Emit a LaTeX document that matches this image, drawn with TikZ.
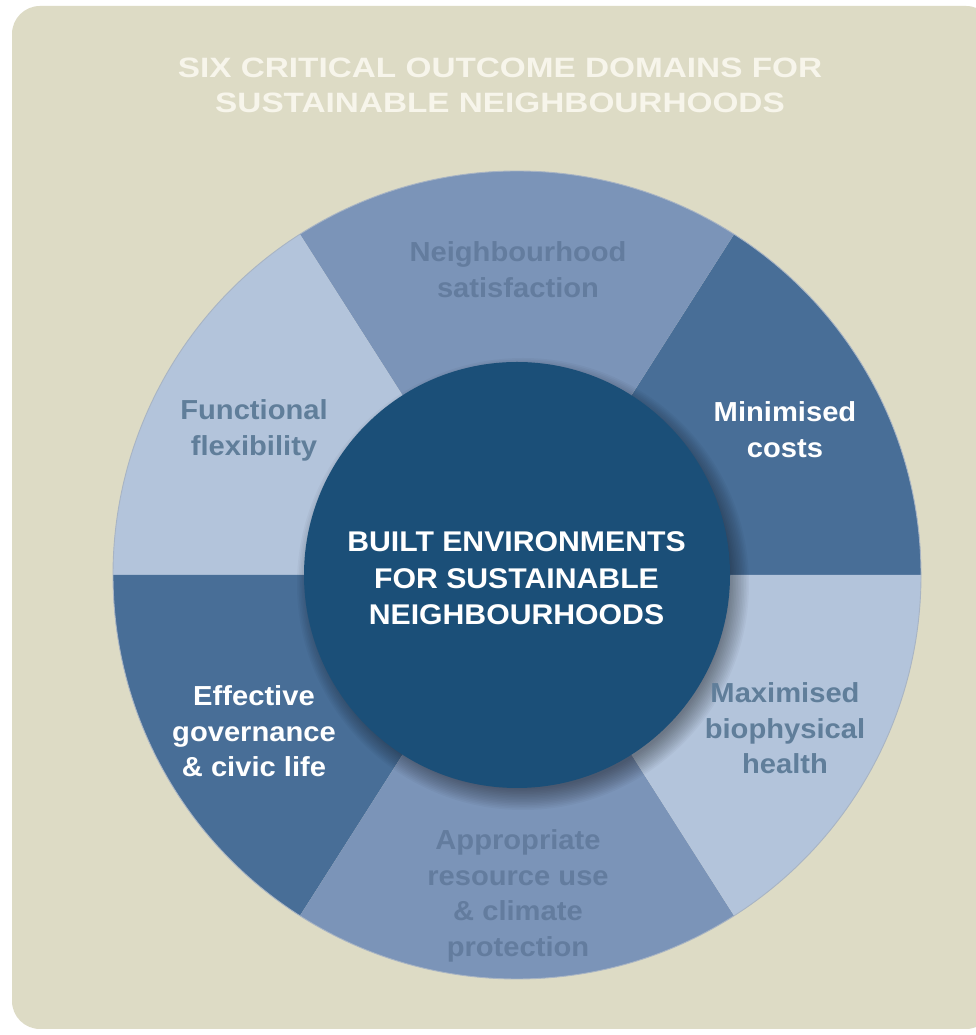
\documentclass[tikz,border=0pt]{standalone}
\usepackage{fontspec}
\setmainfont{Liberation Sans}
\newfontfamily\lblfont[FakeStretch=1.06]{Liberation Sans}
\newfontfamily\ttlfont[FakeStretch=1.19]{Liberation Sans}
\definecolor{bgbeige}{RGB}{221,219,197}
\definecolor{segdark}{RGB}{72,110,151}
\definecolor{segmid}{RGB}{123,148,184}
\definecolor{seglight}{RGB}{179,196,219}
\definecolor{hubblue}{RGB}{27,79,120}
\definecolor{txtlight}{RGB}{96,126,154}
\definecolor{txtmid}{RGB}{99,124,158}
\definecolor{ttlwhite}{RGB}{247,245,235}
\definecolor{ringedge}{RGB}{168,180,196}
\begin{document}
\begin{tikzpicture}[x=1pt,y=1pt,
  seglabel/.style={font={\lblfont\bfseries\fontsize{27.5}{35.5}\selectfont}, align=center, anchor=base, inner sep=0pt},
  hubtxt/.style={font={\lblfont\bfseries\fontsize{28.5}{36.5}\selectfont}, align=center, anchor=base, inner sep=0pt, text=white},
  ttl/.style={font={\ttlfont\bfseries\fontsize{28}{35}\selectfont}, align=center, anchor=base, inner sep=0pt, text=ttlwhite},
  hubstyle/.style={circle, fill=hubblue, minimum size=426pt, inner sep=0pt}]
\useasboundingbox (0,0) rectangle (976,1035);
\fill[white] (0,0) rectangle (976,1035);
\fill[bgbeige, rounded corners=28pt] (12,6) rectangle (994,1029);
% ring sectors
\foreach \a/\b/\c in {0/57.5/segdark, 57.5/122.5/segmid, 122.5/180/seglight,
                      180/237.5/segdark, 237.5/302.5/segmid, 302.5/360/seglight}
  \fill[\c] (517,460) -- ++(\a:404) arc[start angle=\a, end angle=\b, radius=404] -- cycle;
\draw[ringedge, line width=0.9pt] (517,460) circle[radius=404];
% soft shadow of the hub
\foreach \k in {0,...,13}
  \fill[black, opacity=0.03] (523,451) circle[radius=226-1.6*\k];
\node[hubstyle] (hub) at (517,460) {};
% labels (anchor=base is the baseline of the last line)
\node[ttl] (title) at (500,922) {SIX CRITICAL OUTCOME DOMAINS FOR\\SUSTAINABLE NEIGHBOURHOODS};
\node[hubtxt] (hubtext) at (516.5,410) {BUILT ENVIRONMENTS\\FOR SUSTAINABLE\\NEIGHBOURHOODS};
\node[seglabel, text=txtmid] (nbh) at (518,737.5) {Neighbourhood\\satisfaction};
\node[seglabel, text=txtlight] (flex) at (254,579.5) {Functional\\flexibility};
\node[seglabel, text=white] (cost) at (785,577.5) {Minimised\\costs};
\node[seglabel, text=white] (gov) at (254,258) {Effective\\governance\\\& civic life};
\node[seglabel, text=txtlight] (bio) at (785,261) {Maximised\\biophysical\\health};
\node[seglabel, text=txtmid] (res) at (518,78.5) {Appropriate\\resource use\\\& climate\\protection};
\end{tikzpicture}
\end{document}
